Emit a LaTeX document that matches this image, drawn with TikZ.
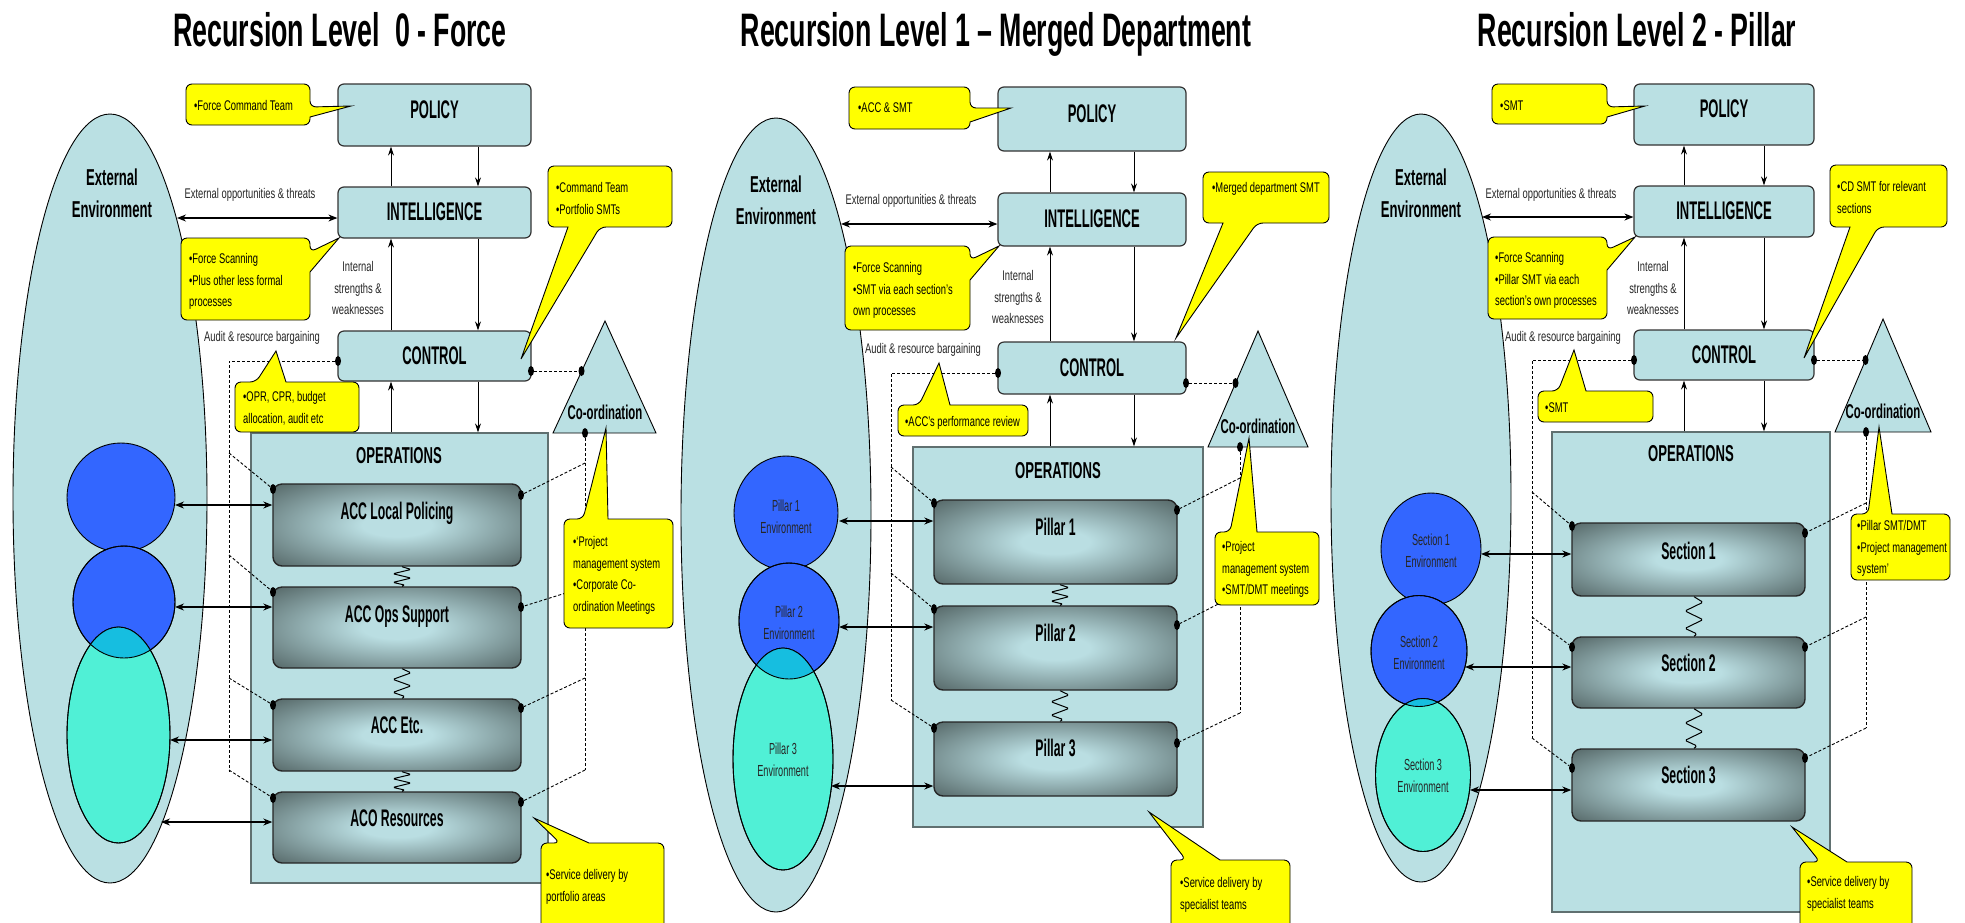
\documentclass[tikz,border=0pt]{standalone}
\usepackage{fontspec}
\setmainfont{Liberation Sans}
\newfontfamily\ffNote{Liberation Sans}[FakeStretch=0.67]
\newfontfamily\ffHead{Liberation Sans}[FakeStretch=0.51]
\newfontfamily\ffWide{Liberation Sans}[FakeStretch=0.57]
\usetikzlibrary{shapes.geometric,arrows.meta,calc}

\definecolor{sysfill}{RGB}{186,224,227}
\definecolor{noteyellow}{RGB}{255,255,0}
\definecolor{envblue}{RGB}{51,102,255}
\definecolor{envteal}{RGB}{80,240,214}
\definecolor{envmix}{RGB}{22,190,224}
\definecolor{unitdark}{RGB}{84,102,102}
\definecolor{unitlight}{RGB}{186,222,226}
\definecolor{framegray}{RGB}{96,112,112}

\pgfdeclareradialshading{unitshade}{\pgfpoint{0bp}{0bp}}{color(0bp)=(unitlight); color(7bp)=(unitlight); color(36bp)=(unitdark); color(100bp)=(unitdark)}

\tikzset{
  sysbox/.style={rectangle, rounded corners=6pt, draw=black!80, line width=1.2pt, fill=sysfill, inner sep=0pt,
    font=\ffHead\bfseries\fontsize{25.5}{26}\selectfont, text height=18pt, text depth=#1},
  sysbox/.default=2pt,
  unitbox/.style={rectangle, rounded corners=9pt, draw=black!85, line width=1.4pt, shade, shading=unitshade, inner sep=0pt,
    font=\ffHead\bfseries\fontsize{24}{24}\selectfont, text height=17pt, text depth=#1},
  opsframe/.style={rectangle, draw=framegray, line width=1.2pt, fill=sysfill, inner sep=0pt},
  opstext/.style={font=\ffWide\bfseries\fontsize{23}{23}\selectfont, text height=16.5pt, text depth=0pt, inner sep=0pt},
  headline/.style={font=\ffWide\bfseries\fontsize{47}{47}\selectfont, anchor=base, inner sep=0pt},
  extell/.style={ellipse, draw=black, line width=0.9pt, fill=sysfill, inner sep=0pt},
  exttext/.style={font=\ffWide\bfseries\fontsize{23}{32}\selectfont, align=center, inner sep=0pt},
  envcirc/.style={ellipse, draw=black, line width=0.9pt, fill=envblue, inner sep=0pt},
  envoval/.style={ellipse, draw=black, line width=0.9pt, fill=envteal, inner sep=0pt},
  envline/.style={draw=black, line width=0.9pt},
  envtext/.style={font=\ffWide\fontsize{16}{22}\selectfont, align=center, inner sep=0pt, text=black!85},
  notetext/.style={font=\ffNote\fontsize{14}{21.5}\selectfont, align=left, inner sep=0pt, anchor=north west},
  flowtext/.style={font=\ffNote\fontsize{14}{21.5}\selectfont, align=center, inner sep=0pt, text=black!85},
  notebox/.style={fill=noteyellow, draw=black, line width=0.9pt, rounded corners=6pt},
  cotri/.style={fill=sysfill, draw=black, line width=0.9pt},
  cotext/.style={font=\ffWide\bfseries\fontsize{20}{20}\selectfont, inner sep=0pt, text height=14.3pt, text depth=0pt},
  dotn/.style={ellipse, fill=black, inner sep=0pt, minimum width=6pt, minimum height=10pt},
  dashline/.style={dash pattern=on 3pt off 2pt, line width=0.9pt},
  flow/.style={-{Stealth[length=9pt,width=6pt]}, line width=0.8pt},
  bi/.style={{Stealth[length=9pt,width=7pt]}-{Stealth[length=9pt,width=7pt]}, line width=1.1pt},
  springline/.style={line width=1pt, rounded corners=1.5pt}
}

% yellow call-outs: box corners, pointer base, pointer tip
\newcommand{\calloutR}[7]{%
  \draw[notebox] (#1,#2) -- (#3,#2) -- (#3,#5) [sharp corners] -- (#7) -- (#3,#6) [rounded corners=6pt] -- (#3,#4) -- (#1,#4) -- cycle;}
\newcommand{\calloutB}[7]{%
  \draw[notebox] (#1,#2) -- (#3,#2) -- (#3,#4) -- (#6,#4) [sharp corners] -- (#7) -- (#5,#4) [rounded corners=6pt] -- (#1,#4) -- cycle;}
\newcommand{\calloutT}[7]{%
  \draw[notebox] (#1,#4) -- (#1,#2) -- (#5,#2) [sharp corners] -- (#7) -- (#6,#2) [rounded corners=6pt] -- (#3,#2) -- (#3,#4) -- cycle;}
% wavy link between two stacked operational units
\newcommand{\springlink}[2]{%
  \draw[springline] (#1) -- ($(#1)!0.14!(#2)+(9,0)$) -- ($(#1)!0.36!(#2)+(-9,0)$) -- ($(#1)!0.58!(#2)+(9,0)$) -- ($(#1)!0.80!(#2)+(-9,0)$) -- ($(#1)!0.94!(#2)+(3,0)$) -- (#2);}

\begin{document}
\begin{tikzpicture}[x=1pt,y=-1pt]
\useasboundingbox (0,0) rectangle (1965,922);
\fill[white] (0,0) rectangle (1965,922);

% ================= Level 0 : Force =================
\node[headline] (title0) at (340,46) {Recursion Level\ \ 0 - Force};

\node[extell, minimum width=194, minimum height=769] (ext0) at (110,498.5) {};
\node[exttext] (ext0t) at (112,193) {External\\Environment};
\node[envcirc, minimum width=108, minimum height=109] (env01) at (121,497.5) {};
\node[envcirc, minimum width=102, minimum height=112] (env02) at (124,602) {};
\node[envoval, minimum width=103, minimum height=216] (env03) at (118.5,735) {};
\begin{scope}
  \clip (124,602) ellipse [x radius=51, y radius=56];
  \fill[envmix] (118.5,735) ellipse [x radius=51.5, y radius=108];
\end{scope}
\draw[envline] (124,602) ellipse [x radius=51, y radius=56];
\draw[envline] (118.5,735) ellipse [x radius=51.5, y radius=108];

\node[sysbox=12pt, minimum width=193, minimum height=62] (pol0) at (434.5,115) {POLICY};
\node[sysbox, minimum width=193, minimum height=51] (int0) at (434.5,212.5) {INTELLIGENCE};
\node[sysbox, minimum width=193, minimum height=50] (ctl0) at (434.5,356) {CONTROL};
\node[opsframe, minimum width=297, minimum height=450] (ops0) at (399.5,658) {};
\node[opstext] (ops0t) at (399,455) {OPERATIONS};
\node[unitbox=28pt, minimum width=248, minimum height=82] (u01) at (397,525) {ACC Local Policing};
\node[unitbox=27pt, minimum width=248, minimum height=81] (u02) at (397,627.5) {ACC Ops Support};
\node[unitbox=20pt, minimum width=248, minimum height=72] (u03) at (397,735) {ACC Etc.};
\node[unitbox=19pt, minimum width=248, minimum height=71] (u04) at (397,827.5) {ACO Resources};
\coordinate (s01a) at ([xshift=5]u01.south);
\coordinate (s01b) at ([xshift=5]u02.north);
\coordinate (s02a) at ([xshift=5]u02.south);
\coordinate (s02b) at ([xshift=5]u03.north);
\coordinate (s03a) at ([xshift=5]u03.south);
\coordinate (s03b) at ([xshift=5]u04.north);
\springlink{s01a}{s01b}
\springlink{s02a}{s02b}
\springlink{s03a}{s03b}

\coordinate (L0) at ([xshift=-43.5]pol0.south);
\coordinate (R0) at ([xshift=43.5]pol0.south);
\draw[flow] (L0 |- int0.north) -- (L0 |- pol0.south);
\draw[flow] (R0 |- pol0.south) -- (R0 |- int0.north);
\draw[flow] (L0 |- ctl0.north) -- (L0 |- int0.south);
\draw[flow] (R0 |- int0.south) -- (R0 |- ctl0.north);
\draw[flow] (L0 |- ops0.north) -- (L0 |- ctl0.south);
\draw[flow] (R0 |- ctl0.south) -- (R0 |- ops0.north);

\coordinate (x0) at (177,218);
\draw[bi] (x0) -- (x0 -| int0.west);
\node[flowtext] (x0t) at (250,195) {External opportunities \& threats};
\node[flowtext] (in0t) at (358,288) {Internal\\strengths \&\\weaknesses};
\node[flowtext] (au0t) at (262,338) {Audit \& resource bargaining};

\coordinate (e01) at (175,505);
\coordinate (e02) at (175,607);
\coordinate (e03) at (170,740);
\coordinate (e04) at (161,822);
\draw[bi] (e01) -- (e01 -| u01.west);
\draw[bi] (e02) -- (e02 -| u02.west);
\draw[bi] (e03) -- (e03 -| u03.west);
\draw[bi] (e04) -- (e04 -| u04.west);

\draw[cotri] (605,321) -- (656,433) -- (553,433) -- cycle;
\node[cotext] (co0) at (605,412) {Co-ordination};

\node[dotn] (dc0l) at (338,361) {};
\node[dotn] (dc0r) at (531,371) {};
\node[dotn] (dt0l) at (581.5,371) {};
\node[dotn] (dt0b) at (585,433) {};
\node[dotn] (dl01) at (273,489) {};
\node[dotn] (dl02) at (273,592) {};
\node[dotn] (dl03) at (273,705) {};
\node[dotn] (dl04) at (273,798) {};
\node[dotn] (dr01) at (521,495) {};
\node[dotn] (dr02) at (521,607) {};
\node[dotn] (dr03) at (521,708) {};
\node[dotn] (dr04) at (521,802) {};

\coordinate (a0) at (229,361);
\coordinate (a0e) at (229,772);
\draw[dashline] (dc0l) -- (a0) -- (a0e);
\foreach \i/\y in {1/453,2/555,3/678,4/770}{\coordinate (b0\i) at (229,\y); \draw[dashline] (b0\i) -- (dl0\i);}
\draw[dashline] (dc0r) -- (dt0l);
\coordinate (c0e) at (585,770);
\draw[dashline] (dt0b) -- (c0e);
\foreach \i/\y in {1/463,2/587,3/678,4/770}{\coordinate (k0\i) at (585,\y); \draw[dashline] (k0\i) -- (dr0\i);}

\calloutR{186}{84}{310}{125}{107}{117}{351,106}
\node[notetext] (n01) at (194,100.5) {•Force Command Team};
\calloutR{181}{238}{310}{320}{252}{272}{339,238}
\node[notetext] (n02) at (189,253.5) {•Force Scanning\\•Plus other less formal\\processes};
\calloutB{548}{166}{672}{227}{568}{600}{521,359}
\node[notetext] (n03) at (556,182.5) {•Command Team\\•Portfolio SMTs};
\calloutT{235}{382}{359}{432}{256}{286}{276,351}
\node[notetext] (n04) at (243,391.5) {•OPR, CPR, budget\\allocation, audit etc};
\calloutT{564}{519}{673}{628}{583}{608}{606,428}
\node[notetext] (n05) at (573,536.5) {•‘Project\\management system\\•Corporate Co-\\ordination Meetings};
\calloutT{541}{843}{664}{935}{560}{589}{534,818}
\node[notetext] (n06) at (546,869.5) {•Service delivery by\\portfolio areas};

% ================= Level 1 : Merged Department =================
\node[headline] (title1) at (996,46) {Recursion Level 1 – Merged Department};

\node[extell, minimum width=190, minimum height=794] (ext1) at (776,515) {};
\node[exttext] (ext1t) at (776,200.5) {External\\Environment};
\node[envcirc, minimum width=104, minimum height=114] (env11) at (786,513) {};
\node[envcirc, minimum width=100, minimum height=116] (env12) at (789,621) {};
\node[envoval, minimum width=100, minimum height=222] (env13) at (783,759) {};
\begin{scope}
  \clip (789,621) ellipse [x radius=50, y radius=58];
  \fill[envmix] (783,759) ellipse [x radius=50, y radius=111];
\end{scope}
\draw[envline] (789,621) ellipse [x radius=50, y radius=58];
\draw[envline] (783,759) ellipse [x radius=50, y radius=111];
\node[envtext] (env11t) at (786,517) {Pillar 1\\Environment};
\node[envtext] (env12t) at (789,622.5) {Pillar 2\\Environment};
\node[envtext] (env13t) at (783,759.5) {Pillar 3\\Environment};

\node[sysbox=12pt, minimum width=188, minimum height=64] (pol1) at (1092,119) {POLICY};
\node[sysbox, minimum width=188, minimum height=53] (int1) at (1092,219.5) {INTELLIGENCE};
\node[sysbox, minimum width=188, minimum height=52] (ctl1) at (1092,368) {CONTROL};
\node[opsframe, minimum width=290, minimum height=380] (ops1) at (1058,637) {};
\node[opstext] (ops1t) at (1058,470) {OPERATIONS};
\node[unitbox=30pt, minimum width=243, minimum height=84] (u11) at (1055.5,542) {Pillar 1};
\node[unitbox=30pt, minimum width=243, minimum height=84] (u12) at (1055.5,648) {Pillar 2};
\node[unitbox=22pt, minimum width=243, minimum height=74] (u13) at (1055.5,759) {Pillar 3};
\coordinate (s11a) at ([xshift=4.5]u11.south);
\coordinate (s11b) at ([xshift=4.5]u12.north);
\coordinate (s12a) at ([xshift=4.5]u12.south);
\coordinate (s12b) at ([xshift=4.5]u13.north);
\springlink{s11a}{s11b}
\springlink{s12a}{s12b}

\coordinate (L1) at ([xshift=-42]pol1.south);
\coordinate (R1) at ([xshift=42]pol1.south);
\draw[flow] (L1 |- int1.north) -- (L1 |- pol1.south);
\draw[flow] (R1 |- pol1.south) -- (R1 |- int1.north);
\draw[flow] (L1 |- ctl1.north) -- (L1 |- int1.south);
\draw[flow] (R1 |- int1.south) -- (R1 |- ctl1.north);
\draw[flow] (L1 |- ops1.north) -- (L1 |- ctl1.south);
\draw[flow] (R1 |- ctl1.south) -- (R1 |- ops1.north);

\coordinate (x1) at (841,224);
\draw[bi] (x1) -- (x1 -| int1.west);
\node[flowtext] (x1t) at (911,201) {External opportunities \& threats};
\node[flowtext] (in1t) at (1018,297) {Internal\\strengths \&\\weaknesses};
\node[flowtext] (au1t) at (923,350) {Audit \& resource bargaining};

\coordinate (e11) at (839,521);
\coordinate (e12) at (839,627);
\coordinate (e13) at (831,786);
\draw[bi] (e11) -- (e11 -| u11.west);
\draw[bi] (e12) -- (e12 -| u12.west);
\draw[bi] (e13) -- (e13 -| u13.west);

\draw[cotri] (1258,331) -- (1308,447) -- (1208,447) -- cycle;
\node[cotext] (co1) at (1258,426) {Co-ordination};

\node[dotn] (dc1l) at (998,373) {};
\node[dotn] (dc1r) at (1186,383) {};
\node[dotn] (dt1l) at (1235.5,383) {};
\node[dotn] (dt1b) at (1240,447) {};
\node[dotn] (dl11) at (934,503) {};
\node[dotn] (dl12) at (934,609) {};
\node[dotn] (dl13) at (934,728) {};
\node[dotn] (dr11) at (1177,510) {};
\node[dotn] (dr12) at (1177,625) {};
\node[dotn] (dr13) at (1177,743) {};

\coordinate (a1) at (891,373);
\coordinate (a1e) at (891,700);
\draw[dashline] (dc1l) -- (a1) -- (a1e);
\foreach \i/\y in {1/467,2/573,3/700}{\coordinate (b1\i) at (891,\y); \draw[dashline] (b1\i) -- (dl1\i);}
\draw[dashline] (dc1r) -- (dt1l);
\coordinate (c1e) at (1240,713);
\draw[dashline] (dt1b) -- (c1e);
\foreach \i/\y in {1/478,2/593,3/713}{\coordinate (k1\i) at (1240,\y); \draw[dashline] (k1\i) -- (dr1\i);}

\calloutR{849}{87}{970}{129}{108}{122}{1011,108}
\node[notetext] (n11) at (858,102.5) {•ACC \& SMT};
\calloutR{845}{246}{970}{330}{260}{280}{999,246}
\node[notetext] (n12) at (853,262.5) {•Force Scanning\\•SMT via each section’s\\own processes};
\calloutB{1203}{172}{1329}{223}{1223}{1257}{1176,338}
\node[notetext] (n13) at (1212,182.5) {•Merged department SMT};
\calloutT{898}{405}{1028}{436}{919}{950}{939,363}
\node[notetext] (n14) at (905,416.5) {•ACC’s performance review};
\calloutT{1215}{532}{1319}{605}{1230}{1257}{1249,438}
\node[notetext] (n15) at (1222,541.5) {•Project\\management system\\•SMT/DMT meetings};
\calloutT{1171}{860}{1290}{935}{1186}{1220}{1149,812}
\node[notetext] (n16) at (1180,877.5) {•Service delivery by\\specialist teams};

% ================= Level 2 : Pillar =================
\node[headline] (title2) at (1637,46) {Recursion Level 2 - Pillar};

\node[extell, minimum width=180, minimum height=768] (ext2) at (1421,498) {};
\node[exttext] (ext2t) at (1421,193) {External\\Environment};
\node[envcirc, minimum width=100, minimum height=112] (env21) at (1431,549) {};
\node[envcirc, minimum width=96, minimum height=111] (env22) at (1419,651) {};
\node[envoval, minimum width=95, minimum height=153] (env23) at (1423,775) {};
\begin{scope}
  \clip (1419,651) ellipse [x radius=48, y radius=55.5];
  \fill[envmix] (1423,775) ellipse [x radius=47.5, y radius=76.5];
\end{scope}
\draw[envline] (1419,651) ellipse [x radius=48, y radius=55.5];
\draw[envline] (1423,775) ellipse [x radius=47.5, y radius=76.5];
\node[envtext] (env21t) at (1431,551) {Section 1\\Environment};
\node[envtext] (env22t) at (1419,653) {Section 2\\Environment};
\node[envtext] (env23t) at (1423,776) {Section 3\\Environment};

\node[sysbox=13pt, minimum width=180, minimum height=61] (pol2) at (1724,114.5) {POLICY};
\node[sysbox, minimum width=180, minimum height=51] (int2) at (1724,211.5) {INTELLIGENCE};
\node[sysbox, minimum width=180, minimum height=50] (ctl2) at (1724,355) {CONTROL};
\node[opsframe, minimum width=278, minimum height=480] (ops2) at (1691,672) {};
\node[opstext] (ops2t) at (1691,453) {OPERATIONS};
\node[unitbox=17pt, minimum width=233, minimum height=73] (u21) at (1688.5,559.5) {Section 1};
\node[unitbox=19pt, minimum width=233, minimum height=71] (u22) at (1688.5,672.5) {Section 2};
\node[unitbox=20pt, minimum width=233, minimum height=72] (u23) at (1688.5,785) {Section 3};
\coordinate (s21a) at ([xshift=5.5]u21.south);
\coordinate (s21b) at ([xshift=5.5]u22.north);
\coordinate (s22a) at ([xshift=5.5]u22.south);
\coordinate (s22b) at ([xshift=5.5]u23.north);
\springlink{s21a}{s21b}
\springlink{s22a}{s22b}

\coordinate (L2) at ([xshift=-40]pol2.south);
\coordinate (R2) at ([xshift=40]pol2.south);
\draw[flow] (L2 |- int2.north) -- (L2 |- pol2.south);
\draw[flow] (R2 |- pol2.south) -- (R2 |- int2.north);
\draw[flow] (L2 |- ctl2.north) -- (L2 |- int2.south);
\draw[flow] (R2 |- int2.south) -- (R2 |- ctl2.north);
\draw[flow] (L2 |- ops2.north) -- (L2 |- ctl2.south);
\draw[flow] (R2 |- ctl2.south) -- (R2 |- ops2.north);

\coordinate (x2) at (1482,217);
\draw[bi] (x2) -- (x2 -| int2.west);
\node[flowtext] (x2t) at (1551,195) {External opportunities \& threats};
\node[flowtext] (in2t) at (1653,288) {Internal\\strengths \&\\weaknesses};
\node[flowtext] (au2t) at (1563,338) {Audit \& resource bargaining};

\coordinate (e21) at (1481,554);
\coordinate (e22) at (1465,667);
\coordinate (e23) at (1470,790);
\draw[bi] (e21) -- (e21 -| u21.west);
\draw[bi] (e22) -- (e22 -| u22.west);
\draw[bi] (e23) -- (e23 -| u23.west);

\draw[cotri] (1883,319) -- (1931,432) -- (1835,432) -- cycle;
\node[cotext] (co2) at (1883,411) {Co-ordination};

\node[dotn] (dc2l) at (1634,360) {};
\node[dotn] (dc2r) at (1814,360) {};
\node[dotn] (dt2l) at (1865.5,360) {};
\node[dotn] (dt2b) at (1866,432) {};
\node[dotn] (dl21) at (1572,526) {};
\node[dotn] (dl22) at (1572,647) {};
\node[dotn] (dl23) at (1572,768) {};
\node[dotn] (dr21) at (1805,533) {};
\node[dotn] (dr22) at (1805,647) {};
\node[dotn] (dr23) at (1805,758) {};

\coordinate (a2) at (1532,360);
\coordinate (a2e) at (1532,738);
\draw[dashline] (dc2l) -- (a2) -- (a2e);
\foreach \i/\y in {1/492,2/617,3/738}{\coordinate (b2\i) at (1532,\y); \draw[dashline] (b2\i) -- (dl2\i);}
\draw[dashline] (dc2r) -- (dt2l);
\coordinate (c2e) at (1866,728);
\draw[dashline] (dt2b) -- (c2e);
\foreach \i/\y in {1/503,2/617,3/728}{\coordinate (k2\i) at (1866,\y); \draw[dashline] (k2\i) -- (dr2\i);}

\calloutR{1492}{84}{1607}{124}{107}{117}{1645,106}
\node[notetext] (n21) at (1500,100.5) {•SMT};
\calloutR{1488}{237}{1607}{319}{250}{270}{1635,237}
\node[notetext] (n22) at (1495,252.5) {•Force Scanning\\•Pillar SMT via each\\section’s own processes};
\calloutB{1830}{165}{1947}{227}{1850}{1878}{1804,358}
\node[notetext] (n23) at (1837,181.5) {•CD SMT for relevant\\sections};
\calloutT{1538}{391}{1653}{422}{1558}{1586}{1574,350}
\node[notetext] (n24) at (1545,402.5) {•SMT};
\calloutT{1851}{514}{1950}{580}{1868}{1892}{1879,427}
\node[notetext] (n25) at (1857,520.5) {•Pillar SMT/DMT\\•Project management\\system’};
\calloutT{1800}{862}{1912}{935}{1820}{1847}{1792,827}
\node[notetext] (n26) at (1807,876.5) {•Service delivery by\\specialist teams};

\end{tikzpicture}
\end{document}
